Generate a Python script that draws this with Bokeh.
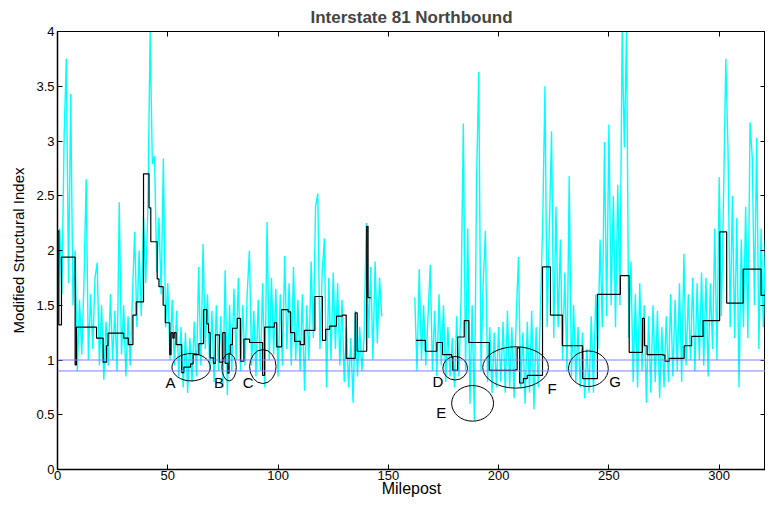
from bokeh.plotting import figure
from bokeh.models import Range1d, LinearAxis, FixedTicker, CustomJSTickFormatter, Span
from bokeh.core.properties import value
from bokeh.embed import file_html
from bokeh.resources import INLINE
import numpy as np

TITLE = "Interstate 81 Northbound"
X_LABEL = "Milepost"
Y_LABEL = "Modified Structural Index"
X_TICKS = [0, 50, 100, 150, 200, 250, 300]
Y_TICKS = [0, 0.5, 1, 1.5, 2, 2.5, 3, 3.5, 4]

# Raw index (cyan), first stretch starts at milepost 0, one value per mile
raw1_start = 0
raw1 = [1.35, 2.2, 1.6, 3.04, 3.75, 1.7, 3.43, 1.5, 2.0, 0.9,
        1.55, 1.05, 1.7, 2.65, 1.0, 1.6, 1.1, 1.75, 1.89, 0.95,
        1.5, 0.82, 1.35, 0.95, 1.6, 1.0, 1.45, 0.9, 2.44, 1.05,
        1.5, 0.85, 1.4, 0.95, 1.6, 2.17, 1.3, 2.0, 1.4, 2.3,
        1.7, 2.4, 4.0, 2.79, 2.86, 1.8, 2.3, 1.6, 2.84, 1.3,
        1.7, 1.0, 1.55, 0.95, 1.45, 0.85, 1.3, 0.75, 1.25, 0.7,
        1.2, 0.8, 1.35, 0.85, 1.85, 0.95, 2.06, 1.1, 1.6, 0.9,
        1.45, 0.8, 1.5, 0.9, 1.4, 0.75, 1.82, 0.68, 1.5, 0.9,
        1.65, 1.0, 1.75, 0.9, 1.5, 0.95, 1.6, 2.0, 0.95, 1.45,
        0.85, 1.55, 0.9, 1.7, 0.75, 2.26, 1.0, 1.75, 1.05, 1.65,
        0.85, 1.6, 0.95, 1.95, 1.1, 1.7, 0.95, 1.85, 1.0, 1.55,
        0.9, 1.6, 0.72, 1.5, 1.0, 1.9, 1.2, 2.4, 2.52, 1.1,
        1.8, 2.11, 0.75, 1.75, 1.0, 1.8, 1.1, 1.7, 0.95, 1.55,
        0.8, 1.3, 0.75, 1.2, 0.61, 1.45, 0.85, 1.3, 0.9, 1.2,
        2.25, 1.2, 1.85, 1.0, 1.9, 1.15, 1.75, 1.4]

# second stretch starts at milepost 162
raw2_start = 162
raw2 = [1.57, 0.9, 1.83, 1.0, 1.5, 0.95, 1.4, 1.87, 0.9, 1.45,
        0.85, 1.6, 0.95, 1.5, 0.8, 1.3, 0.85, 1.2, 0.75, 1.4,
        0.85, 1.6, 3.16, 0.9, 2.2, 0.6, 1.5, 0.45, 2.63, 3.63,
        0.9, 1.7, 2.18, 0.8, 1.3, 0.7, 1.25, 0.75, 1.3, 0.8,
        1.35, 0.7, 1.45, 0.75, 1.3, 0.65, 1.4, 1.94, 0.75, 1.25,
        0.6, 1.35, 0.7, 1.45, 0.55, 1.3, 0.75, 1.5, 2.26, 3.5,
        1.3, 2.2, 3.09, 1.2, 2.4, 1.3, 2.1, 1.0, 1.8, 0.9,
        2.68, 0.85, 1.5, 0.8, 1.3, 0.75, 1.25, 0.65, 1.1, 0.7,
        1.4, 0.7, 1.6, 1.1, 2.1, 1.3, 2.99, 1.4, 3.15, 1.5,
        2.5, 1.3, 2.6, 1.5, 4.0, 2.94, 4.0, 1.2, 1.9, 0.8,
        1.6, 0.75, 1.7, 0.9, 1.5, 0.61, 1.4, 0.7, 1.5, 0.8,
        1.45, 0.65, 1.3, 0.75, 1.4, 0.8, 1.6, 0.85, 1.55, 0.9,
        1.7, 0.8, 1.97, 0.95, 1.6, 1.0, 1.75, 0.9, 1.7, 1.0,
        1.8, 0.95, 1.75, 0.85, 1.7, 1.1, 2.2, 1.0, 2.67, 1.4,
        2.5, 3.75, 2.93, 1.3, 2.5, 1.2, 2.3, 0.75, 2.1, 1.3,
        2.4, 1.2, 3.17, 2.85, 1.5, 3.03, 1.1, 2.2, 1.3, 2.1,
        1.5, 2.0]

# Segment averages (black step), breakpoints and levels
seg1_x = [0.0, 0.6, 1.8, 8.0, 8.6, 17.7, 20.7, 22.2, 22.9, 30.0, 32.1, 34.2, 35.7,
          39.0, 41.5, 42.3, 45.2, 46.0, 47.9, 48.9, 50.9, 51.5, 52.3, 52.9, 53.8,
          56.3, 57.3, 60.3, 61.5, 64.1, 66.2, 67.7, 68.5, 69.2, 70.7, 71.6, 73.4,
          74.9, 76.0, 77.2, 77.8, 78.3, 79.3, 81.5, 83.0, 84.5, 87.1, 93.0, 93.9,
          98.3, 99.4, 101.6, 104.6, 105.7, 107.5, 110.1, 111.9, 116.7, 120.1, 121.6,
          123.4, 126.5, 129.2, 130.9, 135.0, 135.9, 140.2, 140.8, 142.0]
seg1_y = [2.18, 1.32, 1.94, 0.955, 1.30, 1.20, 0.98, 1.13, 1.245, 1.20, 1.14, 1.41, 1.53,
          2.70, 2.39, 2.08, 1.74, 1.67, 1.50, 1.34, 1.05, 1.25, 1.20, 1.25, 1.14,
          0.885, 0.935, 0.965, 1.05, 1.15, 1.46, 1.33, 1.25, 1.02, 0.97, 1.23, 0.98,
          1.25, 0.97, 0.88, 1.06, 1.14, 1.29, 1.38, 0.99, 1.19, 1.16, 0.86, 1.30,
          1.34, 1.12, 1.46, 1.44, 1.25, 1.17, 1.14, 1.27, 1.58, 1.18, 1.28,
          1.31, 1.40, 1.41, 1.015, 1.43, 1.08, 2.22, 1.57, 1.57]
seg2_x = [162.5, 166.8, 172.0, 174.6, 178.7, 179.2, 181.4, 184.4, 186.5, 195.8, 207.7,
          208.4, 209.5, 211.2, 213.0, 219.9, 223.5, 228.9, 238.1, 244.8, 255.2, 259.2,
          265.2, 266.1, 267.3, 274.6, 275.4, 277.4, 284.1, 287.5, 292.7, 300.2, 303.4,
          310.9, 319.0, 325.0]
seg2_y = [1.18, 1.08, 1.16, 1.05, 1.03, 0.905, 1.21, 1.36, 1.16, 0.905, 0.91,
          1.11, 0.79, 0.83, 0.86, 1.85, 1.41, 1.13, 0.83, 1.60, 1.77, 1.07,
          1.38, 1.13, 1.05, 1.045, 0.99, 1.015, 1.13, 1.215, 1.36, 2.17, 1.52,
          1.83, 1.59, 1.59]

thresholds = [1.0, 0.9]

ell_labels = ["A", "B", "C", "D", "E", "F", "G"]
ell_x = [60.6, 77.8, 93.1, 180.3, 188.2, 207.7, 240.7]
ell_y = [0.934, 0.934, 0.94, 0.925, 0.604, 0.932, 0.92]
ell_w = [17.4, 6.5, 12.0, 11.2, 19.0, 29.8, 18.0]
ell_h = [0.25, 0.25, 0.31, 0.215, 0.325, 0.378, 0.325]
lab_x = [51.2, 73.2, 86.5, 172.5, 174.0, 224.2, 252.8]
lab_y = [0.792, 0.792, 0.79, 0.80, 0.518, 0.743, 0.80]

FONT = "Liberation Sans"

p = figure(width=765, height=499, output_backend="svg", toolbar_location=None,
           x_range=Range1d(0, 321), y_range=Range1d(0, 4),
           min_border_left=57, min_border_right=0, min_border_top=0, min_border_bottom=0,
           title=TITLE)
p.title.text_font = FONT
p.title.text_font_size = "17px"
p.title.text_font_style = "bold"
p.title.align = "center"
p.title.standoff = 10
p.grid.visible = False
p.outline_line_color = "black"
p.background_fill_color = "white"
p.border_fill_color = "white"

fmt = CustomJSTickFormatter(code="return String(tick);")

xa = p.xaxis[0]
xa.ticker = FixedTicker(ticks=X_TICKS)
xa.formatter = fmt
ya = p.yaxis[0]
ya.ticker = FixedTicker(ticks=Y_TICKS)
ya.formatter = fmt
for ax in (xa, ya):
    ax.major_tick_in = 5
    ax.major_tick_out = 0
    ax.minor_tick_line_color = None
    ax.axis_line_width = 1.5
    ax.major_tick_line_width = 1
    ax.major_label_text_font = FONT
    ax.major_label_text_font_size = "13px"
    ax.major_label_text_color = "black"
    ax.axis_label_text_font = FONT
    ax.axis_label_text_font_style = "normal"
    ax.axis_label_text_color = "black"
xa.axis_label = X_LABEL
xa.axis_label_text_font_size = "16px"
xa.major_label_standoff = 1
xa.axis_label_standoff = -3
ya.axis_label = Y_LABEL
ya.axis_label_text_font_size = "15px"
ya.major_label_standoff = 3
ya.axis_label_standoff = 6

for loc, tks in (("above", X_TICKS), ("right", Y_TICKS)):
    ax = LinearAxis(ticker=FixedTicker(ticks=tks), major_label_text_font_size="1px",
                    major_label_text_color=None,
                    major_tick_in=5, major_tick_out=0, major_label_standoff=0,
                    minor_tick_line_color=None, axis_line_width=1)
    p.add_layout(ax, loc)

x1 = np.arange(raw1_start, raw1_start + len(raw1))
x2 = np.arange(raw2_start, raw2_start + len(raw2))
p.line(x1, raw1, line_color="#00ffff", line_width=1.4)
p.line(x2, raw2, line_color="#00ffff", line_width=1.4)

for t in thresholds:
    p.add_layout(Span(location=t, dimension="width", line_color="#8080ff", line_width=1))

n1 = min(len(seg1_x), len(seg1_y))
n2 = min(len(seg2_x), len(seg2_y))
p.step(seg1_x[:n1], seg1_y[:n1], mode="after", line_color="black", line_width=1.2)
p.step(seg2_x[:n2], seg2_y[:n2], mode="after", line_color="black", line_width=1.2)

p.ellipse(x=ell_x, y=ell_y, width=ell_w, height=ell_h, fill_color=None,
          line_color="black", line_width=1)
p.text(x=lab_x, y=lab_y, text=ell_labels, text_font=value(FONT), text_font_size="15px",
       text_align="center", text_baseline="middle", text_color="black")

open("out.html", "w").write(file_html(p, INLINE))
